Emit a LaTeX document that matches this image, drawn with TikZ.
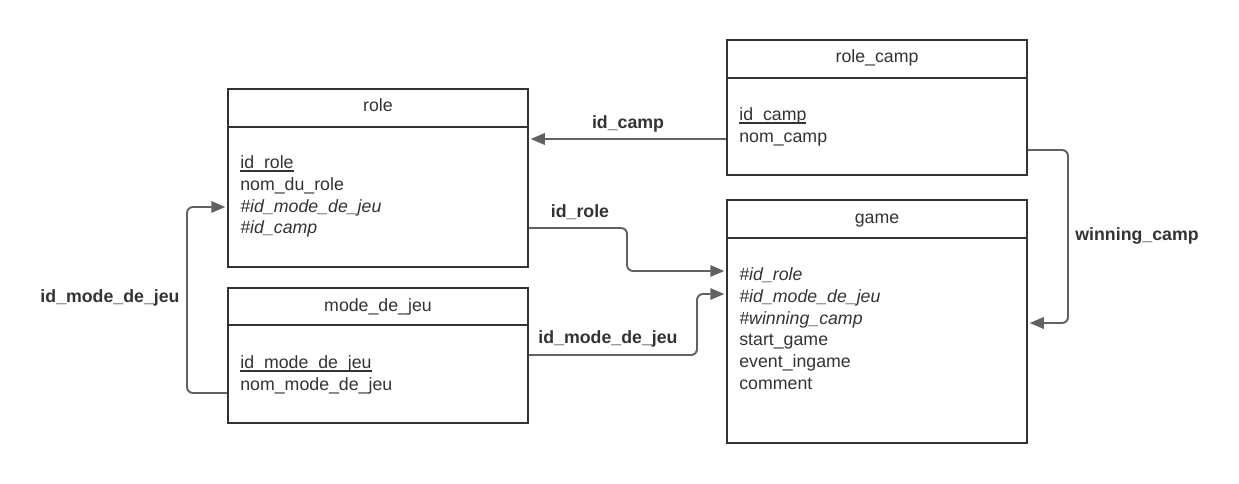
\documentclass[tikz,border=0pt]{standalone}
\usepackage{fontspec}
\setmainfont{Liberation Sans}
\usetikzlibrary{arrows.meta}

% primary key: line level with the underscores
\newcommand{\keyline}[1]{\setbox0\hbox{#1}\rlap{\rule[-2.1pt]{\wd0}{0.8pt}}\box0}

\begin{document}
\begin{tikzpicture}[
  x=0.02cm, y=-0.02cm,
  font=\fontsize{10.1pt}{12.47pt}\selectfont,
  tbl/.style={draw=black!80, line width=1.1pt, minimum width=6cm, inner sep=0pt},
  tblline/.style={draw=black!80, line width=1.1pt},
  tbltitle/.style={anchor=base, text=black!80},
  fields/.style={anchor=north west, align=left, inner sep=0pt, text=black!80},
  link/.style={draw=black!62, line width=1.1pt, rounded corners=3.4pt,
    -{Triangle[length=8pt, width=6.5pt]}, shorten >=1pt},
  rel/.style={anchor=base, font=\fontsize{10.1pt}{12pt}\selectfont\bfseries, text=black!80}
]
\useasboundingbox (0,0) rectangle (1239,483);

% tables
\node[tbl, minimum height=3.56cm] (role) at (378,178) {};
\node[tbltitle] (roletitle) at (378,112) {role};
\draw[tblline] (role.west |- 0,127) -- (role.east |- 0,127);
\node[fields] (rolefields) at (240,155)
  {\keyline{id\_role}\\nom\_du\_role\\\textit{\#id\_mode\_de\_jeu}\\\textit{\#id\_camp}};

\node[tbl, minimum height=2.7cm] (mode) at (378,355.5) {};
\node[tbltitle] (modetitle) at (378,311) {mode\_de\_jeu};
\draw[tblline] (mode.west |- 0,325) -- (mode.east |- 0,325);
\node[fields] (modefields) at (240,355)
  {\keyline{id\_mode\_de\_jeu}\\nom\_mode\_de\_jeu};

\node[tbl, minimum height=2.7cm] (camp) at (877,107.5) {};
\node[tbltitle] (camptitle) at (877,63) {role\_camp};
\draw[tblline] (camp.west |- 0,78) -- (camp.east |- 0,78);
\node[fields] (campfields) at (739,107)
  {\keyline{id\_camp}\\nom\_camp};

\node[tbl, minimum height=4.86cm] (game) at (877,321.5) {};
\node[tbltitle] (gametitle) at (877,223) {game};
\draw[tblline] (game.west |- 0,238) -- (game.east |- 0,238);
\node[fields] (gamefields) at (739,267)
  {\textit{\#id\_role}\\\textit{\#id\_mode\_de\_jeu}\\\textit{\#winning\_camp}\\start\_game\\event\_ingame\\comment};

% foreign keys
\draw[link] (camp.west |- 0,139) -- (role.east |- 0,139);
\draw[link] (role.east |- 0,228) -| (627,271) -- (game.west |- 0,271);
\draw[link] (mode.east |- 0,355) -| (697,294) -- (game.west |- 0,294);
\draw[link] (mode.west |- 0,393) -| (187,207) -- (role.west |- 0,207);
\draw[link] (camp.east |- 0,150) -| (1068,323) -- (game.east |- 0,323);

% relation labels
\node[rel] (lblcamp) at (628,128) {id\_camp};
\node[rel] (lblrole) at (580,217) {id\_role};
\node[rel] (lblmode) at (608,343) {id\_mode\_de\_jeu};
\node[rel] (lblmodeleft) at (110,302) {id\_mode\_de\_jeu};
\node[rel] (lblwin) at (1137,240) {winning\_camp};

\end{tikzpicture}
\end{document}
